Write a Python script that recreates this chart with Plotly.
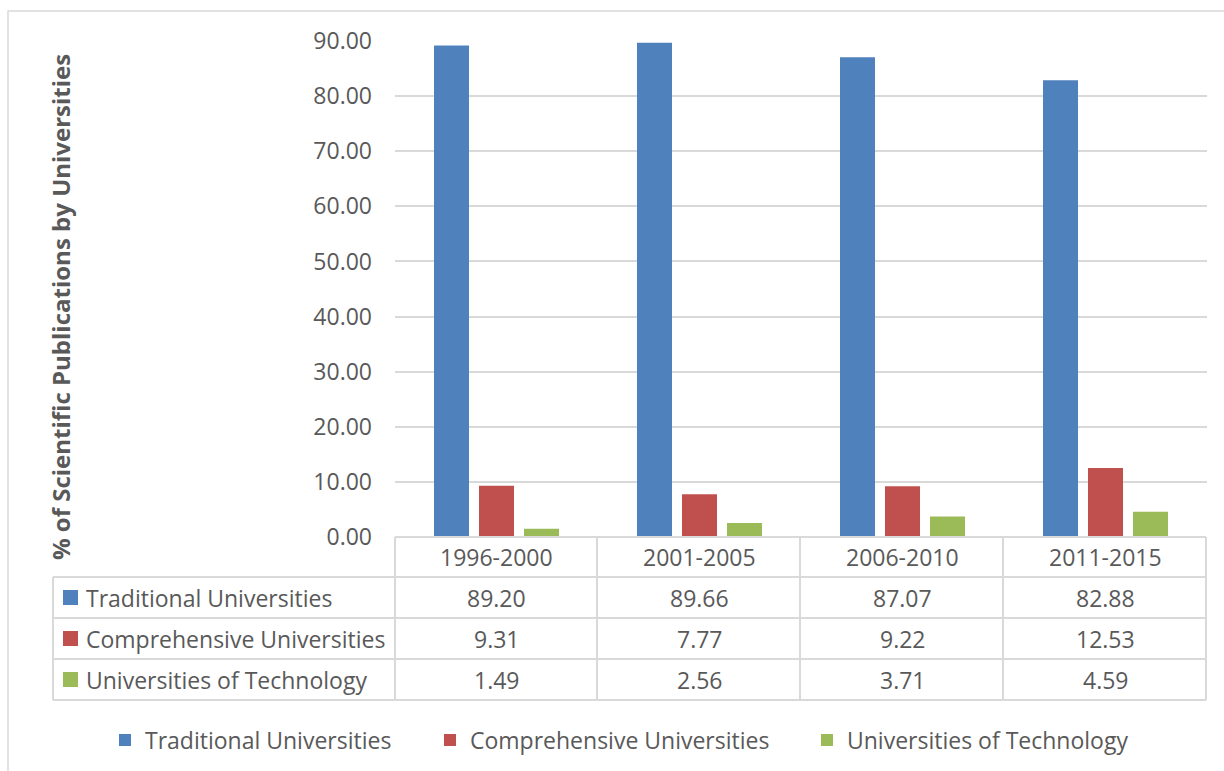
import plotly.graph_objects as go

# Periods and share of scientific publications (%) by university type
periods = ["1996-2000", "2001-2005", "2006-2010", "2011-2015"]
traditional = [89.20, 89.66, 87.07, 82.88]
comprehensive = [9.31, 7.77, 9.22, 12.53]
technology = [1.49, 2.56, 3.71, 4.59]

series_names = ["Traditional Universities", "Comprehensive Universities", "Universities of Technology"]
series_values = [traditional, comprehensive, technology]
series_colors = ["#4F81BD", "#C0504D", "#9BBB59"]

y_ticks = [0, 10, 20, 30, 40, 50, 60, 70, 80, 90]

W, H = 1224, 771
L, R, T, B = 395, 17, 41, 234
PW, PH = W - L - R, H - T - B
TEXT = "#595959"
GRID = "#D9D9D9"
FONT = "Open Sans"


def px_x(px):
    return (px - L) / PW


def px_y(py):
    return (H - B - py) / PH


fig = go.Figure()
legend_ids = ["legend", "legend2", "legend3"]
for name, vals, col, lg in zip(series_names, series_values, series_colors, legend_ids):
    fig.add_trace(go.Bar(
        x=periods, y=vals, name=name, marker=dict(color=col, line=dict(width=0)),
        legend=lg,
    ))

shapes = []
annotations = []

# outer chart border
shapes.append(dict(type="rect", xref="paper", yref="paper",
                   x0=px_x(8), x1=px_x(1240), y0=px_y(790), y1=px_y(11),
                   line=dict(color=GRID, width=1.5), layer="below"))

# data table grid
col_edges = [395, 597, 800, 1003, 1206]
row_edges = [537, 577, 618, 659, 700]
left_edge = 53
line = dict(color=GRID, width=2)
for i, xe in enumerate(col_edges):
    shapes.append(dict(type="line", xref="paper", yref="paper",
                       x0=px_x(xe), x1=px_x(xe), y0=px_y(row_edges[0]), y1=px_y(row_edges[-1]), line=line))
shapes.append(dict(type="line", xref="paper", yref="paper",
                   x0=px_x(left_edge), x1=px_x(left_edge), y0=px_y(row_edges[1]), y1=px_y(row_edges[-1]), line=line))
shapes.append(dict(type="line", xref="paper", yref="paper",
                   x0=px_x(395), x1=px_x(1206), y0=px_y(row_edges[0]), y1=px_y(row_edges[0]), line=line))
for ye in row_edges[1:]:
    shapes.append(dict(type="line", xref="paper", yref="paper",
                       x0=px_x(left_edge), x1=px_x(1206), y0=px_y(ye), y1=px_y(ye), line=line))

cell_font = dict(family=FONT, size=23, color=TEXT)

# header row: period labels
hy = (row_edges[0] + row_edges[1]) / 2
for p in periods:
    annotations.append(dict(x=p, y=px_y(hy), xref="x", yref="paper", text=p,
                            showarrow=False, font=cell_font, xanchor="center", yanchor="middle"))

# value rows with colored keys
for r, (name, vals, col) in enumerate(zip(series_names, series_values, series_colors)):
    cy = (row_edges[r + 1] + row_edges[r + 2]) / 2
    shapes.append(dict(type="rect", xref="paper", yref="paper",
                       x0=px_x(63), x1=px_x(78), y0=px_y(cy + 7.5), y1=px_y(cy - 7.5),
                       fillcolor=col, line=dict(width=0)))
    annotations.append(dict(x=px_x(84), y=px_y(cy), xref="paper", yref="paper", text=name,
                            showarrow=False, font=cell_font, xanchor="left", yanchor="middle"))
    for p, v in zip(periods, vals):
        annotations.append(dict(x=p, y=px_y(cy), xref="x", yref="paper", text=f"{v:.2f}",
                                showarrow=False, font=cell_font, xanchor="center", yanchor="middle"))

# y axis title
annotations.append(dict(x=px_x(60), y=px_y(307), xref="paper", yref="paper",
                        text="<b>% of Scientific Publications by Universities</b>",
                        textangle=-90, showarrow=False,
                        font=dict(family=FONT, size=24, color=TEXT),
                        xanchor="center", yanchor="middle"))

legend_common = dict(orientation="h", yref="paper", yanchor="middle",
                     font=dict(family=FONT, size=23, color=TEXT),
                     bgcolor="rgba(0,0,0,0)", borderwidth=0)
legend_text_x = [145, 470, 847]

fig.update_layout(
    width=W, height=H,
    margin=dict(l=L, r=R, t=T, b=B, autoexpand=False),
    paper_bgcolor="white", plot_bgcolor="white",
    barmode="group", bargap=0.335, bargroupgap=0.222,
    shapes=shapes, annotations=annotations,
    xaxis=dict(type="category", range=[-0.5, 3.5], showticklabels=False,
               showgrid=False, zeroline=False, showline=False, ticks=""),
    yaxis=dict(range=[0, 90], tickvals=y_ticks, tickformat=".2f",
               showgrid=True, gridcolor=GRID, gridwidth=1.5,
               zeroline=False, showline=False, ticks="", ticklabelstandoff=22,
               tickfont=dict(family=FONT, size=23, color=TEXT)),
    legend=dict(**legend_common, x=px_x(legend_text_x[0] - 40), xanchor="left", y=px_y(740)),
    legend2=dict(**legend_common, x=px_x(legend_text_x[1] - 40), xanchor="left", y=px_y(740)),
    legend3=dict(**legend_common, x=px_x(legend_text_x[2] - 40), xanchor="left", y=px_y(740)),
    showlegend=True,
)

fig.write_html("out.html")
